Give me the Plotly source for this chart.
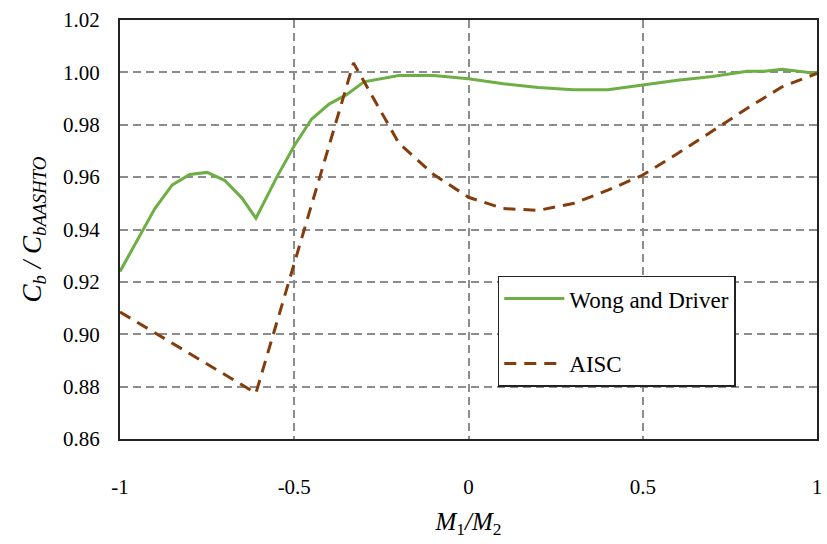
import plotly.graph_objects as go

# Wong and Driver
wd_x = [-1, -0.9, -0.85, -0.8, -0.75, -0.7, -0.65, -0.61, -0.55, -0.5, -0.45, -0.4,
        -0.35, -0.3, -0.2, -0.1, 0, 0.1, 0.2, 0.3, 0.4, 0.5, 0.6, 0.7, 0.8, 0.85, 0.9, 1.0]
wd_y = [0.924, 0.948, 0.957, 0.961, 0.9618, 0.9588, 0.952, 0.9443, 0.960, 0.972, 0.9822, 0.9879,
        0.9915, 0.9964, 0.9988, 0.9988, 0.9976, 0.9957, 0.9942, 0.9934, 0.9934, 0.9952, 0.9970,
        0.9984, 1.0004, 1.0004, 1.0012, 0.9996]

# AISC
aisc_x = [-1, -0.61, -0.33, -0.2, -0.1, 0, 0.1, 0.2, 0.3, 0.4, 0.5, 0.6, 0.7, 0.8, 0.9, 1.0]
aisc_y = [0.9085, 0.8775, 1.0036, 0.973, 0.961, 0.9523, 0.948, 0.9473, 0.9499, 0.955, 0.9608,
          0.969, 0.9776, 0.9863, 0.9945, 0.9996]

x_ticks = [-1, -0.5, 0, 0.5, 1]
x_tick_labels = ["-1", "-0.5", "0", "0.5", "1"]
y_ticks = [0.86, 0.88, 0.90, 0.92, 0.94, 0.96, 0.98, 1.00, 1.02]
y_tick_labels = ["0.86", "0.88", "0.90", "0.92", "0.94", "0.96", "0.98", "1.00", "1.02"]

FONT = "Liberation Serif"

fig = go.Figure()
fig.add_trace(go.Scatter(x=wd_x, y=wd_y, mode="lines", name="Wong and Driver",
                         legendgroup="a",
                         line=dict(color="#6DAE45", width=3)))
fig.add_trace(go.Scatter(x=aisc_x, y=aisc_y, mode="lines", name="AISC",
                         legendgroup="b",
                         line=dict(color="#843C0C", width=3, dash="12px,8px")))

fig.update_layout(
    width=827, height=544,
    margin=dict(l=120, r=5, t=20, b=105),
    paper_bgcolor="white", plot_bgcolor="white",
    font=dict(family=FONT, size=21, color="black"),
    showlegend=True,
    legend=dict(x=0.542, y=0.39, xanchor="left", yanchor="top",
                bgcolor="white", bordercolor="#222222", borderwidth=1.5,
                font=dict(family=FONT, size=23, color="black"),
                itemwidth=60,
                traceorder="grouped", tracegroupgap=32),
    xaxis=dict(range=[-1, 1], tickvals=x_ticks, ticktext=x_tick_labels,
               tickfont=dict(family=FONT, size=21, color="black"),
               showgrid=True, gridcolor="#8C8C8C", gridwidth=1.5, griddash="8px,5px",
               zeroline=False, showline=True, linecolor="#222222", linewidth=2, mirror=True,
               ticks="", ticklabelstandoff=28,
               title=dict(text="<i>M</i><sub>1</sub><i>/M</i><sub>2</sub>",
                          font=dict(family=FONT, size=25, color="black"), standoff=14)),
    yaxis=dict(range=[0.86, 1.02], tickvals=y_ticks, ticktext=y_tick_labels,
               tickfont=dict(family=FONT, size=21, color="black"),
               showgrid=True, gridcolor="#8C8C8C", gridwidth=1.5, griddash="8px,5px",
               zeroline=False, showline=True, linecolor="#222222", linewidth=2, mirror=True,
               ticks="", ticklabelstandoff=14,
               title=dict(text="<i>C<sub>b</sub> / C<sub>bAASHTO</sub></i>",
                          font=dict(family=FONT, size=27, color="black"), standoff=14)),
)

fig.write_html("out.html")
